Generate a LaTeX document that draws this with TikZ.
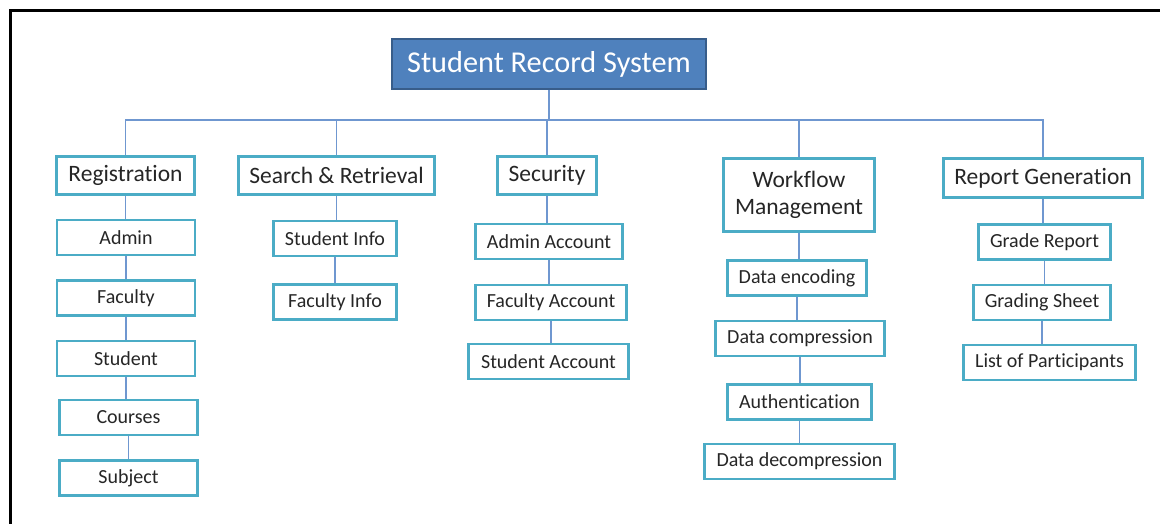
\documentclass[tikz,border=0pt]{standalone}
\usepackage{fontspec}
\setmainfont{Carlito}[Ligatures=NoCommon]
\definecolor{rootblue}{HTML}{4F81BD}
\definecolor{rootedge}{HTML}{385D8A}
\definecolor{boxedge}{HTML}{4BACC6}
\definecolor{linkblue}{HTML}{6F97D0}
\begin{document}
\begin{tikzpicture}[x=1pt, y=-1pt,
  every node/.style = {shape=rectangle, draw=boxedge, line width=2.8pt,
    fill=white, align=center, inner sep=0pt, text=black!85},
  root/.style = {fill=rootblue, draw=rootedge, line width=1.8pt, text=white,
    minimum width=314pt, minimum height=50pt, font=\fontsize{30.3}{32}\selectfont},
  head/.style = {minimum height=38pt, font=\fontsize{23.5}{27}\selectfont},
  leaf/.style = {minimum height=35pt, font=\fontsize{20}{22}\selectfont},
  link/.style = {draw=linkblue, line width=1.3pt}]
  \useasboundingbox (0,0) rectangle (1160,524);
  \clip (0,0) rectangle (1160,524);
  % frame
  \draw[line width=3pt] (10,560) |- (1200,11);
  \node[root] (top) at (549,64) {Student Record System};
  % first level
  \node[head, minimum width=138pt] (reg) at (125.5,175.5) {Registration};
  \node[head, minimum width=196pt] (search) at (336.5,175.5) {Search \& Retrieval};
  \node[head, minimum width=99pt] (sec) at (547,175.5) {Security};
  \node[head, minimum width=151pt, minimum height=73pt] (wf) at (799,195) {Workflow\\Management};
  \node[head, minimum width=199pt, minimum height=39pt] (rep) at (1043,178) {Report Generation};
  % second level
  \node[leaf, minimum width=138pt] (admin) at (126,237.5) {Admin};
  \node[leaf, minimum width=138pt] (faculty) at (126,298) {Faculty};
  \node[leaf, minimum width=138pt] (student) at (126,358.5) {Student};
  \node[leaf, minimum width=138pt] (courses) at (128.5,417.5) {Courses};
  \node[leaf, minimum width=138pt] (subject) at (128.5,478) {Subject};
  \node[leaf, minimum width=123pt] (sinfo) at (335,238.5) {Student Info};
  \node[leaf, minimum width=123pt] (finfo) at (335,302) {Faculty Info};
  \node[leaf, minimum width=147pt] (aacc) at (549,241.5) {Admin Account};
  \node[leaf, minimum width=151pt] (facc) at (551,302.5) {Faculty Account};
  \node[leaf, minimum width=160pt] (sacc) at (548.5,361.5) {Student Account};
  \node[leaf, minimum width=139pt] (enc) at (797,278) {Data encoding};
  \node[leaf, minimum width=169pt] (comp) at (800,338.5) {Data compression};
  \node[leaf, minimum width=144pt] (auth) at (799.5,402) {Authentication};
  \node[leaf, minimum width=190pt] (decomp) at (799.5,461.5) {Data decompression};
  \node[leaf, minimum width=132pt] (grade) at (1044.5,242) {Grade Report};
  \node[leaf, minimum width=137pt] (sheet) at (1042,302.5) {Grading Sheet};
  \node[leaf, minimum width=172pt] (list) at (1049.5,362.5) {List of Participants};
  % connectors
  \foreach \c in {reg,search,sec,wf,rep}
    \draw[link] (top.south) -- ++(0,30) -| (\c.north);
  \foreach \a/\b in {reg/admin, admin/faculty, faculty/student, student/courses,
      courses/subject, search/sinfo, sinfo/finfo, sec/aacc, aacc/facc, facc/sacc,
      wf/enc, enc/comp, comp/auth, auth/decomp, rep/grade, grade/sheet, sheet/list}
    \draw[link] (\a.south) -- (\a.south |- \b.north);
\end{tikzpicture}
\end{document}
